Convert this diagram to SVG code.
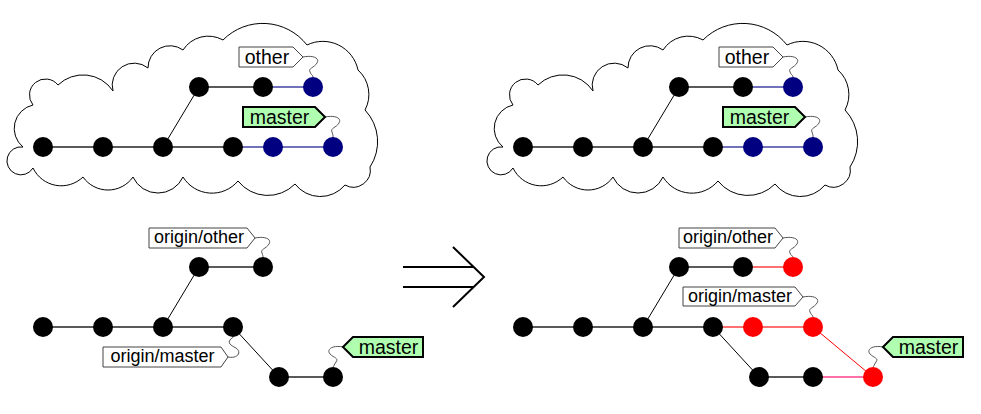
<svg xmlns="http://www.w3.org/2000/svg" xmlns:xlink="http://www.w3.org/1999/xlink" width="981" height="414" viewBox="0 0 981 414">
<style>
  .cloud { fill: #ffffff; stroke: #000000; stroke-width: 1; }
  .c { fill: #000000; }
  .n { fill: #000080; }
  .r { fill: #ff0000; }
  .e { stroke: #5a5a5a; stroke-width: 2; fill: none; }
  .eb { stroke: #7272bb; stroke-width: 2; fill: none; }
  .er { stroke: #ff7070; stroke-width: 2; fill: none; }
  .ep { stroke: #ff70a8; stroke-width: 2; fill: none; }
  .ed { stroke: #000000; stroke-width: 1; fill: none; }
  .edr { stroke: #ff0000; stroke-width: 1; fill: none; }
  .sq { stroke: #555555; stroke-width: 1; fill: none; }
  .lw { fill: #ffffff; stroke: #444444; stroke-width: 1; }
  .lg { fill: #b0ffb0; stroke: #000000; stroke-width: 2; }
  .t { font-family: "Liberation Sans", Arial, sans-serif; fill: #000000; text-anchor: middle; }
  .t1 { font-size: 19.5px; }
  .t2 { font-size: 18px; }
  .arr { stroke: #000000; stroke-width: 2; fill: none; }
</style>
<defs>
  <path id="cloudShape" class="cloud" d="M23,147 A24,24 0 0 1 33,105 A16,16 0 0 1 58,85 A36,36 0 0 1 113,91 A22,22 0 0 1 148,68 A22,22 0 0 1 183,50 A30,30 0 0 1 223,40 A56,56 0 0 1 307,45 A36,36 0 0 1 358,70 A33,33 0 0 1 365,110 A46,46 0 0 1 370,167 A17,17 0 0 1 345,185 A32,32 0 0 1 295,184 A38,38 0 0 1 238,181 A34,34 0 0 1 183,177 A27.5,27.5 0 0 1 133,177 A30.5,30.5 0 0 1 83,177 A31.3,31.3 0 0 1 33,168 A14,14 0 1 1 23,147 Z"/>
</defs>

<g id="cloud-left"><use xlink:href="#cloudShape" href="#cloudShape"/></g>
<g id="cloud-right"><use xlink:href="#cloudShape" href="#cloudShape" transform="translate(480,0)"/></g>

<g id="connectors">
  <!-- top left -->
  <line class="e" x1="43" y1="147" x2="233" y2="147"/>
  <line class="eb" x1="233" y1="147" x2="333" y2="147"/>
  <line class="ed" x1="163" y1="147" x2="199" y2="87"/>
  <line class="e" x1="199" y1="87" x2="263" y2="87"/>
  <line class="eb" x1="263" y1="87" x2="313" y2="87"/>
  <!-- top right -->
  <line class="e" x1="523" y1="147" x2="713" y2="147"/>
  <line class="eb" x1="713" y1="147" x2="813" y2="147"/>
  <line class="ed" x1="643" y1="147" x2="679" y2="87"/>
  <line class="e" x1="679" y1="87" x2="743" y2="87"/>
  <line class="eb" x1="743" y1="87" x2="793" y2="87"/>
  <!-- bottom left -->
  <line class="e" x1="43" y1="327" x2="233" y2="327"/>
  <line class="ed" x1="163" y1="327" x2="199" y2="267"/>
  <line class="e" x1="199" y1="267" x2="263" y2="267"/>
  <line class="ed" x1="233" y1="327" x2="279" y2="377"/>
  <line class="e" x1="279" y1="377" x2="333" y2="377"/>
  <!-- bottom right -->
  <line class="e" x1="523" y1="327" x2="713" y2="327"/>
  <line class="er" x1="713" y1="327" x2="813" y2="327"/>
  <line class="ed" x1="643" y1="327" x2="679" y2="267"/>
  <line class="e" x1="679" y1="267" x2="743" y2="267"/>
  <line class="er" x1="743" y1="267" x2="793" y2="267"/>
  <line class="ed" x1="713" y1="327" x2="759" y2="377"/>
  <line class="e" x1="759" y1="377" x2="813" y2="377"/>
  <line class="ep" x1="813" y1="377" x2="873" y2="377"/>
  <line class="edr" x1="813" y1="327" x2="873" y2="377"/>
  <!-- label squiggles -->
  <path class="sq" d="M303,57 C313,55 320,58 317,63 C314,68 308,68 310,72 C311,75 313,75 313,77"/>
  <path class="sq" d="M325,117 C335,115 342,118 339,123 C336,128 330,128 332,132 C333,135 333,135 333,137"/>
  <path class="sq" d="M783,57 C793,55 800,58 797,63 C794,68 788,68 790,72 C791,75 793,75 793,77"/>
  <path class="sq" d="M805,117 C815,115 822,118 819,123 C816,128 810,128 812,132 C813,135 813,135 813,137"/>
  <path class="sq" d="M255,238 C265,236 272,239 269,244 C266,249 260,249 262,253 C263,256 263,256 263,257"/>
  <path class="sq" d="M228,357 C238,359 242,352 236,348 C230,345 228,343 230,340 C231,338 233,338 233,337"/>
  <path class="sq" d="M343,347 C333,345 326,349 330,354 C334,358 339,358 336,362 C334,365 334,366 333,367"/>
  <path class="sq" d="M783,238 C793,236 800,239 797,244 C794,249 788,249 790,253 C791,256 793,256 793,257"/>
  <path class="sq" d="M803,297 C813,295 820,298 817,303 C814,308 808,308 810,312 C811,315 813,315 813,317"/>
  <path class="sq" d="M883,347 C873,345 866,349 870,354 C874,358 879,358 876,362 C874,365 874,366 873,367"/>
</g>

<!-- top left nodes -->
<g id="tl-c1"><circle class="c" cx="43" cy="147" r="10"/></g>
<g id="tl-c2"><circle class="c" cx="103" cy="147" r="10"/></g>
<g id="tl-c3"><circle class="c" cx="163" cy="147" r="10"/></g>
<g id="tl-c4"><circle class="c" cx="233" cy="147" r="10"/></g>
<g id="tl-c5"><circle class="n" cx="273" cy="147" r="10"/></g>
<g id="tl-c6"><circle class="n" cx="333" cy="147" r="10"/></g>
<g id="tl-o1"><circle class="c" cx="199" cy="87" r="10"/></g>
<g id="tl-o2"><circle class="c" cx="263" cy="87" r="10"/></g>
<g id="tl-o3"><circle class="n" cx="313" cy="87" r="10"/></g>
<g id="tl-label-other"><polygon class="lw" points="239,47 293,47 303,57 293,67 239,67"/><text class="t t1" x="267" y="63.5">other</text></g>
<g id="tl-label-master"><polygon class="lg" points="243,107 315,107 325,117 315,127 243,127"/><text class="t t1" x="279.5" y="123.5">master</text></g>

<!-- top right nodes -->
<g id="tr-c1"><circle class="c" cx="523" cy="147" r="10"/></g>
<g id="tr-c2"><circle class="c" cx="583" cy="147" r="10"/></g>
<g id="tr-c3"><circle class="c" cx="643" cy="147" r="10"/></g>
<g id="tr-c4"><circle class="c" cx="713" cy="147" r="10"/></g>
<g id="tr-c5"><circle class="n" cx="753" cy="147" r="10"/></g>
<g id="tr-c6"><circle class="n" cx="813" cy="147" r="10"/></g>
<g id="tr-o1"><circle class="c" cx="679" cy="87" r="10"/></g>
<g id="tr-o2"><circle class="c" cx="743" cy="87" r="10"/></g>
<g id="tr-o3"><circle class="n" cx="793" cy="87" r="10"/></g>
<g id="tr-label-other"><polygon class="lw" points="719,47 773,47 783,57 773,67 719,67"/><text class="t t1" x="747" y="63.5">other</text></g>
<g id="tr-label-master"><polygon class="lg" points="723,107 795,107 805,117 795,127 723,127"/><text class="t t1" x="759.5" y="123.5">master</text></g>

<!-- bottom left nodes -->
<g id="bl-c1"><circle class="c" cx="43" cy="327" r="10"/></g>
<g id="bl-c2"><circle class="c" cx="103" cy="327" r="10"/></g>
<g id="bl-c3"><circle class="c" cx="163" cy="327" r="10"/></g>
<g id="bl-c4"><circle class="c" cx="233" cy="327" r="10"/></g>
<g id="bl-o1"><circle class="c" cx="199" cy="267" r="10"/></g>
<g id="bl-o2"><circle class="c" cx="263" cy="267" r="10"/></g>
<g id="bl-m1"><circle class="c" cx="279" cy="377" r="10"/></g>
<g id="bl-m2"><circle class="c" cx="333" cy="377" r="10"/></g>
<g id="bl-label-origin-other"><polygon class="lw" points="149,228 247,228 255,238 247,248 149,248"/><text class="t t2" x="199" y="243">origin/other</text></g>
<g id="bl-label-origin-master"><polygon class="lw" points="103,347 221,347 228,357 221,367 103,367"/><text class="t t2" x="162.5" y="362">origin/master</text></g>
<g id="bl-label-master"><polygon class="lg" points="343,347 353,337 423,337 423,357 353,357"/><text class="t t1" x="388.5" y="353.5">master</text></g>

<!-- arrow -->
<g id="arrow">
  <line class="arr" x1="403" y1="267" x2="474" y2="267"/>
  <line class="arr" x1="403" y1="287" x2="474" y2="287"/>
  <polyline class="arr" points="453,247 484,277 453,307"/>
</g>

<!-- bottom right nodes -->
<g id="br-c1"><circle class="c" cx="523" cy="327" r="10"/></g>
<g id="br-c2"><circle class="c" cx="583" cy="327" r="10"/></g>
<g id="br-c3"><circle class="c" cx="643" cy="327" r="10"/></g>
<g id="br-c4"><circle class="c" cx="713" cy="327" r="10"/></g>
<g id="br-r1"><circle class="r" cx="753" cy="327" r="10"/></g>
<g id="br-r2"><circle class="r" cx="813" cy="327" r="10"/></g>
<g id="br-o1"><circle class="c" cx="679" cy="267" r="10"/></g>
<g id="br-o2"><circle class="c" cx="743" cy="267" r="10"/></g>
<g id="br-o3"><circle class="r" cx="793" cy="267" r="10"/></g>
<g id="br-m1"><circle class="c" cx="759" cy="377" r="10"/></g>
<g id="br-m2"><circle class="c" cx="813" cy="377" r="10"/></g>
<g id="br-m3"><circle class="r" cx="873" cy="377" r="10"/></g>
<g id="br-label-origin-other"><polygon class="lw" points="679,228 775,228 783,238 775,248 679,248"/><text class="t t2" x="728" y="243">origin/other</text></g>
<g id="br-label-origin-master"><polygon class="lw" points="683,287 795,287 803,297 795,306 683,306"/><text class="t t2" x="740" y="302">origin/master</text></g>
<g id="br-label-master"><polygon class="lg" points="883,347 893,337 963,337 963,357 893,357"/><text class="t t1" x="928.5" y="353.5">master</text></g>
</svg>
